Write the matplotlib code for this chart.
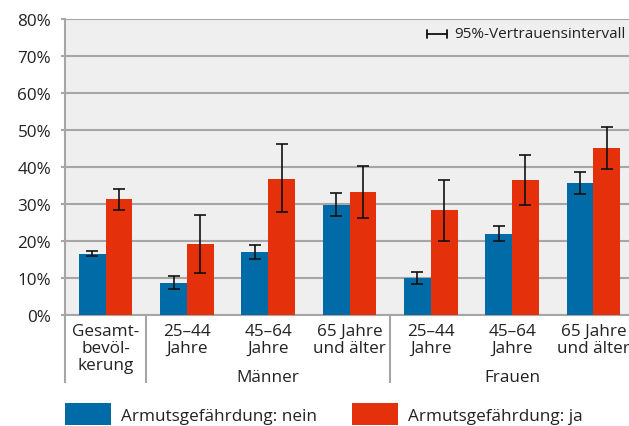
import matplotlib.pyplot as plt
import numpy as np
from matplotlib.transforms import blended_transform_factory

plt.rcParams['font.family'] = ['Open Sans', 'DejaVu Sans']

# Armutsgefährdung nach Geschlecht und Alter, Anteile in %
labels = ["Gesamt-\nbevöl-\nkerung", "25–44\nJahre", "45–64\nJahre", "65 Jahre\nund älter",
          "25–44\nJahre", "45–64\nJahre", "65 Jahre\nund älter"]
groups = ["Männer", "Frauen"]

nein = [16.5, 8.6, 17.0, 29.7, 10.0, 21.9, 35.7]
nein_lo = [15.9, 7.1, 15.1, 26.8, 8.4, 20.0, 32.7]
nein_hi = [17.4, 10.5, 19.0, 33.1, 11.6, 24.1, 38.6]

ja = [31.4, 19.2, 36.8, 33.2, 28.4, 36.5, 45.1]
ja_lo = [28.5, 11.4, 27.8, 26.3, 20.1, 29.7, 39.5]
ja_hi = [34.1, 27.0, 46.1, 40.3, 36.6, 43.2, 50.8]

blue = "#006ba6"
red = "#e5300c"
grid = "#a6a6a6"
txt = "#222222"

fig = plt.figure(figsize=(6.29, 4.27), dpi=100)
ax = fig.add_axes([65 / 629, 111 / 427, 569 / 629, 296 / 427])
ax.set_facecolor("#efefef")

x = np.arange(len(labels))
w = 0.33
nein = np.array(nein)
ja = np.array(ja)
err_n = [nein - np.array(nein_lo), np.array(nein_hi) - nein]
err_j = [ja - np.array(ja_lo), np.array(ja_hi) - ja]

ekw = dict(ecolor="#111111", elinewidth=1.2, capsize=4, capthick=1.2)
ax.bar(x - w / 2, nein, w, color=blue, yerr=err_n, error_kw=ekw, zorder=3,
       label="Armutsgefährdung: nein")
ax.bar(x + w / 2, ja, w, color=red, yerr=err_j, error_kw=ekw, zorder=3,
       label="Armutsgefährdung: ja")

ax.set_xlim(-0.5, 6.5)
ax.set_ylim(0, 80)
ax.set_yticks(range(0, 81, 10))
ax.set_yticklabels([f"{v}%" for v in range(0, 81, 10)])
ax.yaxis.grid(True, color=grid, linewidth=1.5, zorder=0)
ax.set_axisbelow(True)

ax.set_xticks(x)
ax.set_xticklabels(labels, linespacing=1.05)
ax.tick_params(axis="x", length=0, pad=6, labelsize=12.3, labelcolor=txt)
ax.tick_params(axis="y", length=3, width=1.5, color=grid, pad=7, labelsize=12.3, labelcolor=txt)

for side in ["top", "right"]:
    ax.spines[side].set_visible(False)
ax.spines["bottom"].set_color(grid)
ax.spines["bottom"].set_linewidth(1.5)
ax.spines["left"].set_color(grid)
ax.spines["left"].set_linewidth(1.5)

# Trennlinien zwischen den Gruppen unterhalb der Achse
tr = blended_transform_factory(ax.transData, ax.transAxes)
for sx in [-0.5, 0.5, 3.5]:
    ax.plot([sx, sx], [0, -0.225], transform=tr, color=grid, linewidth=1.5, clip_on=False)

for gx, name in zip([2, 5], groups):
    ax.text(gx, -0.21, name, transform=tr, ha="center", va="center", fontsize=12.3, color=txt)

# Hinweis Vertrauensintervall
ax.annotate("", xy=(447, 392), xytext=(427, 392), xycoords="figure pixels",
            textcoords="figure pixels",
            arrowprops=dict(arrowstyle="|-|, widthA=0.3, widthB=0.3", color="#111111",
                            linewidth=1.3, shrinkA=0, shrinkB=0))
fig.text(454 / 629, 392 / 427, "95%-Vertrauensintervall", ha="left", va="center",
         fontsize=11, color=txt)

fig.legend(loc="lower left", bbox_to_anchor=(65 / 629, 1 / 427), ncol=2, frameon=False,
           borderaxespad=0, borderpad=0,
           fontsize=12.3, handlelength=2.7, handleheight=1.6, handletextpad=0.6,
           columnspacing=2.0, labelcolor=txt)

fig.savefig("out.png", dpi=100)
